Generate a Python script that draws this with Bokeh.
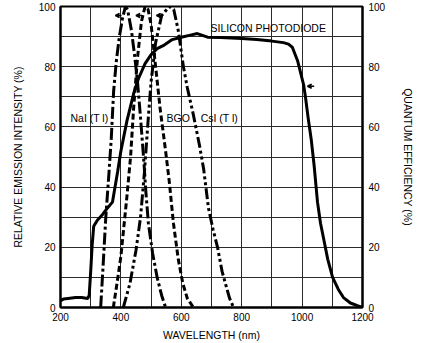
from bokeh.plotting import figure
from bokeh.models import Range1d, LinearAxis, FixedTicker, Arrow, VeeHead
from bokeh.core.properties import value
from bokeh.embed import file_html
from bokeh.resources import INLINE

# ---------------- data ----------------
x_ticks = [200, 400, 600, 800, 1000, 1200]
x_grid = [200, 300, 400, 500, 600, 700, 800, 900, 1000, 1100, 1200]
y_ticks = [0, 20, 40, 60, 80, 100]
y_grid = [0, 10, 20, 30, 40, 50, 60, 70, 80, 90, 100]

si_x = [200, 210, 225, 250, 270, 290, 295, 300, 305, 310, 322, 340, 355, 372, 389, 400,
        420, 442, 458, 480, 500, 520, 540, 570, 600, 630, 653, 687, 730, 800, 850, 900,
        938, 955, 968, 985, 1005, 1011, 1020, 1030, 1040, 1051, 1061, 1071, 1085, 1101,
        1120, 1137, 1160, 1183, 1200]
si_y = [2.3, 2.8, 3.0, 3.3, 3.3, 3.0, 4.0, 12, 21, 27, 29, 31, 33, 35, 45, 52,
        62, 71, 76, 81, 84, 86, 87, 89, 89.8, 90.5, 91, 89.8, 89.7, 89.4, 89, 88.5,
        88, 87.5, 86.4, 82, 74, 70, 63, 56, 47, 35, 28, 23, 16, 10,
        6, 3.3, 1.5, 0.6, 0]

nai_x = [333, 340, 350, 360, 368, 376, 385, 395, 405, 415, 422, 435, 445, 455, 465, 475,
         483, 491, 505, 520, 535, 548]
nai_y = [0, 12, 30, 44, 56, 72, 82, 90, 96, 100, 99, 92, 84, 75, 63, 50,
         38, 28, 18, 10, 4, 0]

bgo_x = [375, 390, 400, 410, 420, 432, 442, 455, 468, 480, 490, 500, 515, 530, 548, 560,
         574, 590, 605, 620, 640]
bgo_y = [0, 10, 17, 27, 37, 50, 66, 83, 95, 100, 99, 94, 80, 66, 52, 42,
         28, 16, 8, 3, 0]

csi_x = [408, 430, 450, 465, 478, 490, 500, 515, 535, 560, 575, 590, 607, 620, 640, 660,
         674, 690, 705, 720, 735, 746, 760, 773]
csi_y = [0, 8, 19, 30, 45, 62, 75, 88, 97, 100, 99, 92, 80, 73, 64, 54,
         46, 33, 26, 20, 12, 8, 3, 0]

label_text = ["NaI (T l)", "BGO", "CsI (T l)", "SILICON PHOTODIODE"]
label_x = [233, 551, 664, 697]
label_y = [63, 63, 63, 93]

arrow_x_start = [402, 470, 538, 1040]
arrow_x_end = [382, 450, 518, 1018]
arrow_y = [97, 97, 97, 73.5]

FONT = "Liberation Sans"

# ---------------- figure ----------------
p = figure(width=436, height=343, output_backend="svg", toolbar_location=None,
           x_range=Range1d(200, 1200), y_range=Range1d(0, 100),
           min_border_left=60, min_border_right=74, min_border_top=6, min_border_bottom=36,
           background_fill_color="white", border_fill_color="white")

p.outline_line_color = "black"
p.outline_line_width = 2

# grids
p.xgrid.ticker = FixedTicker(ticks=x_grid)
p.ygrid.ticker = FixedTicker(ticks=y_grid)
for g in (p.xgrid, p.ygrid):
    g.grid_line_color = "#2a2a2a"
    g.grid_line_width = 1
    g.grid_line_alpha = 1

# axes
p.xaxis.ticker = FixedTicker(ticks=x_ticks)
p.yaxis.ticker = FixedTicker(ticks=y_ticks)
p.xaxis.axis_label = "WAVELENGTH (nm)"
p.yaxis.axis_label = "RELATIVE EMISSION INTENSITY (%)"

right = LinearAxis(ticker=FixedTicker(ticks=y_ticks), axis_label="QUANTUM EFFICIENCY (%)")
p.add_layout(right, "right")

for ax in (p.xaxis[0], p.yaxis[0], right):
    ax.major_tick_in = 0
    ax.major_tick_out = 0
    ax.minor_tick_in = 0
    ax.minor_tick_out = 0
    ax.axis_line_color = "black"
    ax.axis_line_width = 2
    ax.major_label_text_font = FONT
    ax.major_label_text_font_size = "10px"
    ax.major_label_text_color = "black"
    ax.axis_label_text_font = FONT
    ax.axis_label_text_font_size = "10.5px"
    ax.axis_label_text_font_style = "normal"
    ax.axis_label_text_color = "black"

p.xaxis.major_label_standoff = 5
p.xaxis.axis_label_standoff = 5
p.yaxis.major_label_standoff = 5
p.yaxis.axis_label_standoff = 12
right.major_label_standoff = 6
right.axis_label_standoff = 14

# curves
p.line(si_x, si_y, line_color="black", line_width=3)
p.line(nai_x, nai_y, line_color="black", line_width=3, line_dash="12 3 3 3")
p.line(bgo_x, bgo_y, line_color="black", line_width=3, line_dash="6 3")
p.line(csi_x, csi_y, line_color="black", line_width=3, line_dash="11 3 3 3 3 3")

# labels
p.text(x=label_x, y=label_y, text=label_text, text_font=value(FONT),
       text_font_size=value("10.5px"), text_color="black",
       text_align="left", text_baseline="middle")

# arrows
for xs, xe, ya in zip(arrow_x_start, arrow_x_end, arrow_y):
    p.add_layout(Arrow(x_start=xs, y_start=ya, x_end=xe, y_end=ya,
                       line_color="black", line_width=1.5,
                       end=VeeHead(size=4, line_color="black", fill_color="black", line_width=1.5)))

open("out.html", "w").write(file_html(p, INLINE))
